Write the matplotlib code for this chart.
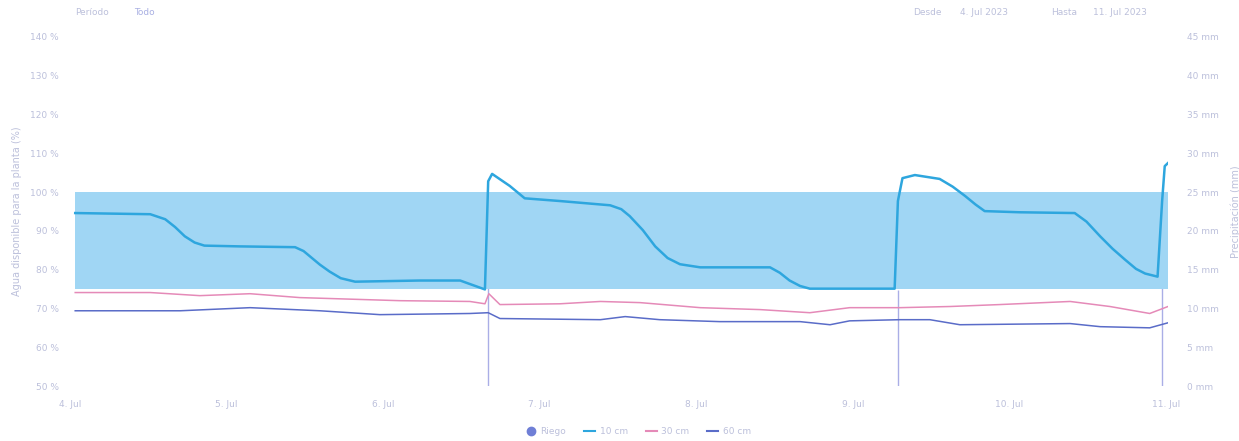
import numpy as np
import matplotlib.pyplot as plt
from matplotlib.lines import Line2D

# hours since 4 Jul 00:00, values in % of plant available water
t_10 = [0.8, 12.3, 14.6, 16.1, 17.6, 19.1, 20.6, 26.1, 34.5, 35.8, 36.8, 38.3, 39.8,
        41.5, 43.7, 53.6, 59.8, 63.6,
        64.1, 64.7, 67.4, 69.7, 75.1, 82.8, 84.5, 85.8, 87.8, 89.7, 91.6, 93.5, 96.6,
        107.3, 108.8, 110.3, 111.9, 113.4,
        126.4, 126.9, 127.6, 129.5, 133.3, 135.3, 137.2, 138.8, 140.2, 145.6, 154.0,
        155.8, 157.9, 159.8, 161.7, 163.4, 164.8, 166.7, 167.4, 167.8, 168.3]
v_10 = [94.6, 94.3, 93.0, 91.0, 88.6, 87.0, 86.2, 86.0, 85.8, 84.8, 83.4, 81.3, 79.5,
        77.8, 76.9, 77.2, 77.2, 74.9,
        102.8, 104.7, 101.6, 98.4, 97.7, 96.6, 95.6, 93.8, 90.2, 86.0, 83.0, 81.4, 80.6,
        80.6, 79.2, 77.2, 75.8, 75.1,
        75.1, 97.7, 103.6, 104.4, 103.4, 101.4, 99.0, 96.8, 95.1, 94.8, 94.6,
        92.4, 88.6, 85.4, 82.6, 80.2, 79.0, 78.2, 97.7, 106.7, 107.5]

t_30 = [0.8, 12.3, 19.9, 27.6, 35.2, 50.6, 61.3, 63.6, 64.2, 65.9, 75.1, 81.3, 87.4,
        96.6, 105.8, 113.4, 119.5, 127.2, 134.9, 142.5, 153.3, 159.4, 165.5, 168.3]
v_30 = [74.1, 74.1, 73.3, 73.8, 72.8, 72.0, 71.8, 71.2, 73.8, 71.0, 71.2, 71.8, 71.5,
        70.2, 69.7, 68.9, 70.2, 70.2, 70.5, 71.0, 71.8, 70.5, 68.7, 70.5]

t_60 = [0.8, 16.9, 27.6, 38.3, 47.5, 61.3, 64.1, 65.9, 81.3, 85.1, 90.4, 99.6, 111.9,
        116.5, 119.5, 127.2, 131.8, 136.4, 153.3, 157.9, 165.5, 168.3]
v_60 = [69.4, 69.4, 70.2, 69.4, 68.4, 68.7, 68.9, 67.4, 67.1, 67.9, 67.1, 66.6, 66.6,
        65.8, 66.8, 67.1, 67.1, 65.8, 66.1, 65.3, 65.0, 66.3]

riego_t = [64.1, 126.9, 167.4]
riego_mm = [15.0, 12.4, 16.0]

band_low, band_high = 75, 100
day_labels = ['4. Jul', '5. Jul', '6. Jul', '7. Jul', '8. Jul', '9. Jul', '10. Jul', '11. Jul']
left_ticks = list(range(50, 141, 10))
right_ticks = list(range(0, 46, 5))

txt = '#bcc0db'
c10, c30, c60 = '#2ea6de', '#e58ab8', '#5a6cc8'

fig = plt.figure(figsize=(12.39, 4.41), dpi=100)
ax = fig.add_axes([70 / 1239, 1 - 386 / 441, 1098 / 1239, 349 / 441])
ax2 = ax.twinx()

ax.fill_between([t_10[0], t_10[-1]], band_low, band_high, color='#a0d6f4', lw=0, zorder=1)
ax.plot(t_30, v_30, color=c30, lw=1.1, zorder=3)
ax.plot(t_60, v_60, color=c60, lw=1.1, zorder=3)
ax.plot(t_10, v_10, color=c10, lw=1.8, zorder=4)
ax2.vlines(riego_t, 0, riego_mm, color='#aaaee6', lw=1.0, zorder=2)

ax.set_xlim(0, 168.3)
ax.set_ylim(50, 140)
ax2.set_ylim(0, 45)
ax.set_zorder(ax2.get_zorder() + 1)
ax.patch.set_visible(False)

ax.set_xticks([24 * i for i in range(len(day_labels))])
ax.set_xticklabels(day_labels)
ax.set_yticks(left_ticks)
ax.set_yticklabels([f'{v} %' for v in left_ticks])
ax2.set_yticks(right_ticks)
ax2.set_yticklabels([f'{v} mm' for v in right_ticks])

for a in (ax, ax2):
    for s in a.spines.values():
        s.set_visible(False)
    a.tick_params(length=0, colors=txt, labelsize=6.5)
ax.tick_params(axis='x', pad=10)
ax.tick_params(axis='y', pad=8)
ax2.tick_params(axis='y', pad=14)

ax.set_ylabel('Agua disponible para la planta (%)', color=txt, fontsize=7, labelpad=6)
ax2.set_ylabel('Precipitación (mm)', color=txt, fontsize=7, labelpad=8)

fig.text(0.061, 0.965, 'Período', color=txt, fontsize=6.5)
fig.text(0.108, 0.965, 'Todo', color='#a9b0e3', fontsize=6.5)
fig.text(0.737, 0.965, 'Desde', color=txt, fontsize=6.5)
fig.text(0.775, 0.965, '4. Jul 2023', color=txt, fontsize=6.5)
fig.text(0.848, 0.965, 'Hasta', color=txt, fontsize=6.5)
fig.text(0.882, 0.965, '11. Jul 2023', color=txt, fontsize=6.5)

handles = [
    Line2D([], [], marker='o', ls='none', color='#6f7fd6', markersize=6),
    Line2D([], [], color=c10, lw=1.5),
    Line2D([], [], color=c30, lw=1.5),
    Line2D([], [], color=c60, lw=1.5),
]
leg = fig.legend(handles, ['Riego', '10 cm', '30 cm', '60 cm'], loc='center',
                 bbox_to_anchor=(0.515, 0.022), ncol=4, frameon=False, fontsize=6.5,
                 handlelength=1.2, columnspacing=2.0, handletextpad=0.5)
for t in leg.get_texts():
    t.set_color(txt)

fig.savefig('out.png', dpi=100)
